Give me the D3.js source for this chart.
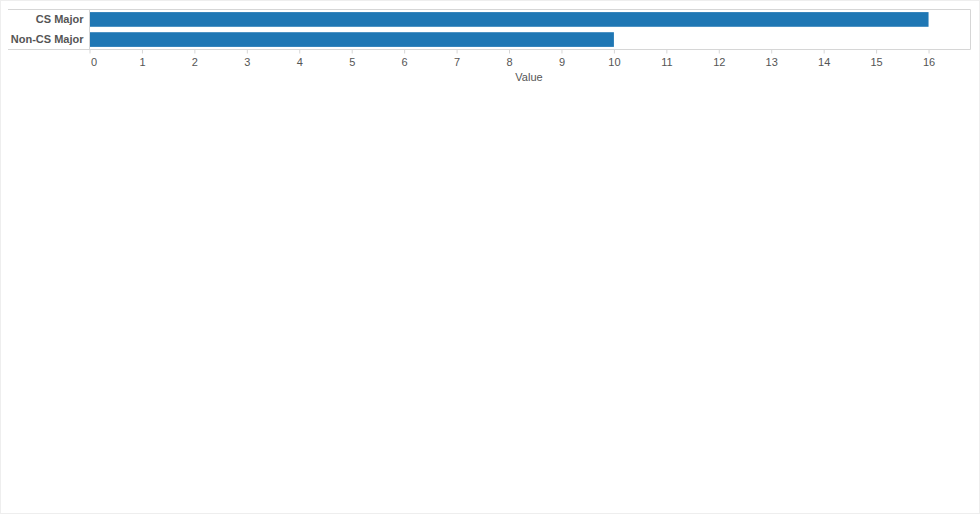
<!DOCTYPE html>
<html>
<head>
<meta charset="utf-8">
<script src="https://cdn.jsdelivr.net/npm/d3@7"></script>
<style>
html,body{margin:0;padding:0;background:#fff;}
svg{display:block;}
</style>
</head>
<body>
<script>
const categories = ["CS Major", "Non-CS Major"];
const values = [16, 10];
const tickValues = [0,1,2,3,4,5,6,7,8,9,10,11,12,13,14,15,16];
const axisTitle = "Value";

(function(){
const W = 980, H = 514;
const svg = d3.select("body").append("svg").attr("width", W).attr("height", H);

svg.append("rect").attr("x",0.5).attr("y",0.5).attr("width",W-1).attr("height",H-1)
  .attr("fill","#fff").attr("stroke","#eeeeee");

const pLeft = 89.5, pRight = 970.5, pTop = 9.5, pBottom = 49.5;
const x = d3.scaleLinear().domain([0, 16.8]).range([pLeft, pRight]);
const y = d3.scaleBand().domain(categories).range([pTop, pBottom]).paddingInner(0.27).paddingOuter(0.13);

const lineColor = "#d6d6d6";
const textColor = "#555";
const font = "'Liberation Sans', Arial, Helvetica, sans-serif";

svg.append("line").attr("x1",8).attr("x2",pRight).attr("y1",pTop).attr("y2",pTop).attr("stroke",lineColor);
svg.append("line").attr("x1",8).attr("x2",pRight).attr("y1",pBottom).attr("y2",pBottom).attr("stroke",lineColor);
svg.append("line").attr("x1",pRight).attr("x2",pRight).attr("y1",pTop).attr("y2",pBottom).attr("stroke",lineColor);
svg.append("line").attr("x1",pLeft).attr("x2",pLeft).attr("y1",pTop).attr("y2",pBottom).attr("stroke",lineColor);

svg.append("g").selectAll("rect").data(categories).join("rect")
  .attr("x", x(0)+0.5)
  .attr("y", d => y(d))
  .attr("width", (d,i) => x(values[i]) - x(0) - 0.5)
  .attr("height", y.bandwidth())
  .attr("fill", "#1f77b4");

svg.append("g").selectAll("text").data(categories).join("text")
  .attr("x", 83.5)
  .attr("y", d => y(d) + y.bandwidth()/2)
  .attr("dy", "0.35em")
  .attr("text-anchor","end")
  .attr("font-family", font)
  .attr("font-weight","bold")
  .attr("font-size", 11)
  .attr("fill", textColor)
  .text(d => d);

const axis = d3.axisBottom(x).tickValues(tickValues).tickSize(4).tickPadding(4.5).tickFormat(d3.format("d"));
const gx = svg.append("g").attr("transform", `translate(0,${pBottom})`).call(axis);
gx.select(".domain").remove();
gx.selectAll(".tick line").attr("stroke", lineColor);
gx.selectAll(".tick text")
  .attr("font-family", font)
  .attr("font-size", 11)
  .attr("fill", textColor)
  .attr("text-anchor", (d,i) => i === 0 ? "start" : "middle")
  .attr("dx", (d,i) => i === 0 ? 1 : 0);

svg.append("text")
  .attr("x", (pLeft+pRight)/2 - 1)
  .attr("y", 81)
  .attr("text-anchor","middle")
  .attr("font-family", font)
  .attr("font-size", 11)
  .attr("fill", textColor)
  .text(axisTitle);
})();
</script>
</body>
</html>
